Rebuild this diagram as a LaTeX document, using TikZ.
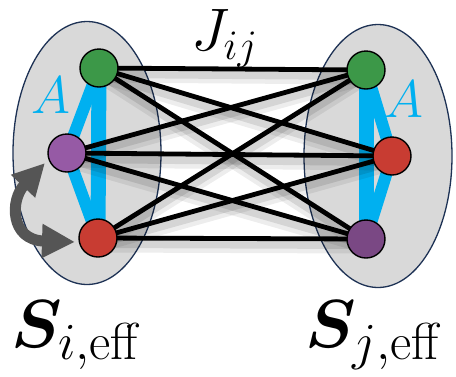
\RequirePackage{fix-cm}
\documentclass[tikz,border=0pt]{standalone}
\usepackage{bm}
\usetikzlibrary{arrows.meta,shapes.geometric}
\definecolor{ngreen}{RGB}{60,152,72}
\definecolor{npurple}{RGB}{150,90,165}
\definecolor{npurpledark}{RGB}{122,72,132}
\definecolor{nred}{RGB}{200,60,50}
\definecolor{ncyan}{RGB}{0,176,240}
\definecolor{ngray}{RGB}{217,217,217}
\definecolor{nnavy}{RGB}{30,50,85}
\definecolor{narrow}{RGB}{85,85,85}
\newcommand{\subsz}[1]{\mbox{\fontsize{52}{52}\selectfont$#1$}}
\pgfdeclarelayer{back}
\pgfdeclarelayer{mid}
\pgfsetlayers{back,mid,main}
\begin{document}
\begin{tikzpicture}[x=1pt,y=-1pt,
  spin/.style={circle,draw=black,line width=1.4pt,minimum size=38pt,inner sep=0pt},
  cluster/.style={ellipse,draw=nnavy,fill=ngray,line width=1.3pt,minimum width=148pt,minimum height=263pt,inner sep=0pt},
  bluebond/.style={draw=ncyan,line width=12pt,line cap=round,line join=round},
  coupling/.style={draw=black,line width=4.8pt},
  shadeA/.style={draw=black,opacity=0.07,line width=15pt},
  shadeB/.style={draw=black,opacity=0.10,line width=8pt},
  lbl/.style={inner sep=0pt,anchor=base west}]
\useasboundingbox (0,0) rectangle (456,376);
% spins
\node[spin,fill=ngreen] (L1) at (99,68) {};
\node[spin,fill=npurple] (L2) at (67,153) {};
\node[spin,fill=nred] (L3) at (98,238) {};
\node[spin,fill=ngreen] (R1) at (366,70) {};
\node[spin,fill=nred] (R2) at (392,156) {};
\node[spin,fill=npurpledark] (R3) at (366,239) {};
\begin{pgfonlayer}{back}
\node[cluster] (Ei) at (87,153) {};
\node[cluster] (Ej) at (378,156) {};
\draw[bluebond] (L1.center) -- (L2.center) -- (L3.center);
\draw[bluebond,line width=15pt] (L1.center) -- (L3.center);
\draw[bluebond] (R1.center) -- (R2.center) -- (R3.center);
\draw[bluebond,line width=15pt] (R1.center) -- (R3.center);
\end{pgfonlayer}
\begin{pgfonlayer}{mid}
\foreach \a in {L1,L2,L3}{
  \foreach \b in {R1,R2,R3}{
    \draw[shadeA,transform canvas={yshift=-7pt}] (\a.center) -- (\b.center);
    \draw[shadeB,transform canvas={yshift=-6pt}] (\a.center) -- (\b.center);
  }
}
\foreach \a in {L1,L2,L3}{
  \foreach \b in {R1,R2,R3}{
    \draw[coupling] (\a.center) -- (\b.center);
  }
}
\end{pgfonlayer}
% swap arrow
\coordinate (ta) at (45,163);
\coordinate (tb) at (75,242);
\draw[narrow,line width=11pt,{Triangle[length=32pt,width=31pt]}-{Triangle[length=33pt,width=32pt]}]
  (ta) .. controls (10,200) and (10,240) .. (tb);
% labels
\node[lbl,text=ncyan] (Ai) at (31,113) {\fontsize{53}{53}\selectfont$A$};
\node[lbl,text=ncyan] (Aj) at (384,117) {\fontsize{53}{53}\selectfont$A$};
\node[lbl] (J) at (191,50) {\fontsize{60}{60}\selectfont$J_{ij}$};
\node[lbl] (Si) at (11,347) {\fontsize{68}{68}\selectfont$\bm{S}_{\subsz{i{,}\mathrm{eff}}}$};
\node[lbl] (Sj) at (305,347) {\fontsize{68}{68}\selectfont$\bm{S}_{\subsz{j{,}\mathrm{eff}}}$};
\end{tikzpicture}
\end{document}
